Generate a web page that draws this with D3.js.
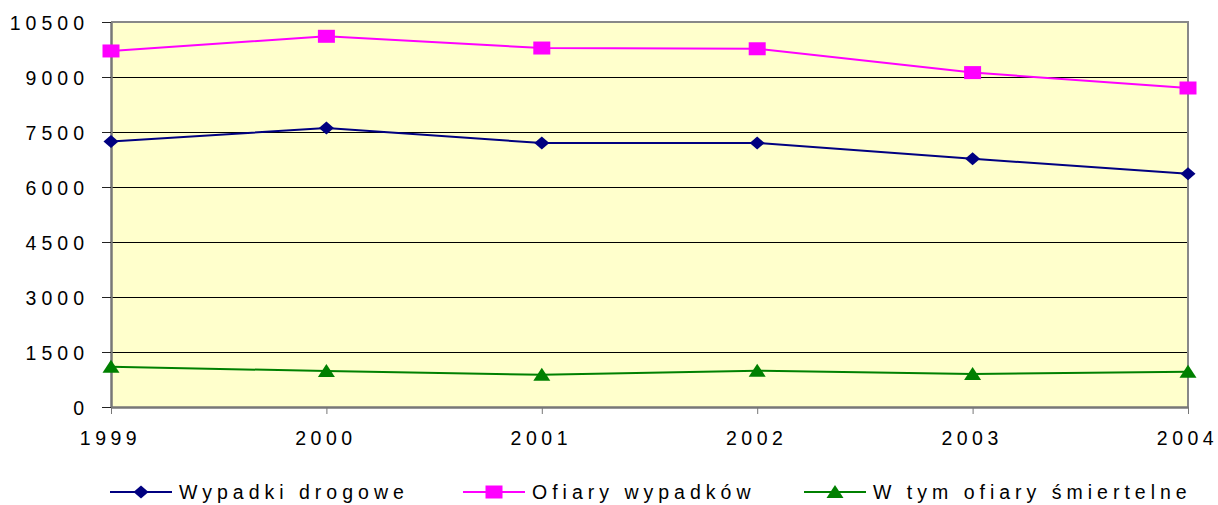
<!DOCTYPE html>
<html>
<head>
<meta charset="utf-8">
<script src="https://cdn.jsdelivr.net/npm/d3@7"></script>
<style>
  body { margin: 0; background: #fff; }
  text { font-family: "Liberation Sans", Arial, sans-serif; fill: #000; }
</style>
</head>
<body>
<div id="viz"></div>
<script>
// chart data
var years = ["1999", "2000", "2001", "2002", "2003", "2004"];
var wypadki = [7240, 7610, 7200, 7200, 6770, 6360];
var ofiary = [9710, 10110, 9790, 9770, 9120, 8700];
var smiertelne = [1100, 980, 880, 990, 900, 960];
var yTicks = [0, 1500, 3000, 4500, 6000, 7500, 9000, 10500];

var series = [
  { name: "Wypadki drogowe", values: wypadki, color: "#000080", marker: "diamond", legendX: 110 },
  { name: "Ofiary wypadków", values: ofiary, color: "#FF00FF", marker: "square", legendX: 463 },
  { name: "W tym ofiary śmiertelne", values: smiertelne, color: "#008000", marker: "triangle", legendX: 804 }
];

var width = 1218, height = 505;
// plot box (note: "top" is taken by window.top, so prefix these)
var plotLeft = 111, plotRight = 1188, plotTop = 22, plotBottom = 407;

var svg = d3.select("#viz").append("svg")
  .attr("width", width)
  .attr("height", height);

var x = d3.scalePoint().domain(years).range([plotLeft, plotRight]);
var y = d3.scaleLinear().domain([0, 10500]).range([plotBottom, plotTop]);

// plot background
svg.append("rect")
  .attr("x", plotLeft).attr("y", plotTop)
  .attr("width", plotRight - plotLeft).attr("height", plotBottom - plotTop)
  .attr("fill", "#FFFFCC");

// gridlines
svg.append("g")
  .selectAll("line")
  .data(yTicks.filter(function(d) { return d > 0 && d < 10500; }))
  .enter().append("line")
  .attr("x1", plotLeft).attr("x2", plotRight)
  .attr("y1", function(d) { return Math.round(y(d)) + 0.5; })
  .attr("y2", function(d) { return Math.round(y(d)) + 0.5; })
  .attr("stroke", "#000").attr("stroke-width", 1);

// top and right border
svg.append("path")
  .attr("d", "M" + plotLeft + "," + y(10500) + "H" + plotRight + "V" + plotBottom)
  .attr("fill", "none").attr("stroke", "#888").attr("stroke-width", 2);

// y axis
var yAxis = svg.append("g")
  .attr("transform", "translate(" + plotLeft + ",0)")
  .call(d3.axisLeft(y).tickValues(yTicks).tickFormat(d3.format("d"))
    .tickSize(9).tickSizeOuter(0).tickPadding(18));
yAxis.select(".domain").attr("stroke", "#777").attr("stroke-width", 2.5);
yAxis.selectAll(".tick line").attr("stroke", "#222");
yAxis.selectAll(".tick text")
  .attr("font-size", "19.5px").attr("letter-spacing", "5px")
  .attr("dx", 5).attr("dy", "0.36em").attr("fill", "#000")
  .style("font-family", "'Liberation Sans', Arial, sans-serif");

// x axis
var xAxis = svg.append("g")
  .attr("transform", "translate(0," + plotBottom + ")")
  .call(d3.axisBottom(x).tickSize(7).tickSizeOuter(0).tickPadding(17));
xAxis.select(".domain").attr("stroke", "#777").attr("stroke-width", 2.5);
xAxis.selectAll(".tick line").attr("stroke", "#777");
xAxis.selectAll(".tick text")
  .attr("font-size", "19.5px").attr("letter-spacing", "4.5px")
  .attr("dx", -1).attr("fill", "#000")
  .style("font-family", "'Liberation Sans', Arial, sans-serif");

// marker shapes
function markerPath(type) {
  if (type == "diamond") return "M0,-6.5L7.5,0L0,6.5L-7.5,0Z";
  if (type == "square") return "M-8.5,-6.5H8.5V6.5H-8.5Z";
  return "M0,-7L8.5,6H-8.5Z";
}

var line = d3.line()
  .x(function(d, i) { return x(years[i]); })
  .y(function(d) { return y(d); });

series.forEach(function(s) {
  svg.append("path")
    .attr("d", line(s.values))
    .attr("fill", "none")
    .attr("stroke", s.color)
    .attr("stroke-width", 2);

  svg.append("g")
    .selectAll("path")
    .data(s.values)
    .enter().append("path")
    .attr("transform", function(d, i) { return "translate(" + x(years[i]) + "," + y(d) + ")"; })
    .attr("d", markerPath(s.marker))
    .attr("fill", s.color);
});

// legend
var legendY = 492;
series.forEach(function(s) {
  var g = svg.append("g").attr("transform", "translate(" + s.legendX + "," + legendY + ")");
  g.append("line")
    .attr("x1", 0).attr("x2", 62)
    .attr("stroke", s.color).attr("stroke-width", 2);
  g.append("path")
    .attr("transform", "translate(31,0)")
    .attr("d", markerPath(s.marker))
    .attr("fill", s.color);
  g.append("text")
    .attr("x", 69).attr("y", 7)
    .attr("font-size", "19.5px")
    .attr("letter-spacing", "5px")
    .attr("fill", "#000")
    .text(s.name);
});
</script>
</body>
</html>
